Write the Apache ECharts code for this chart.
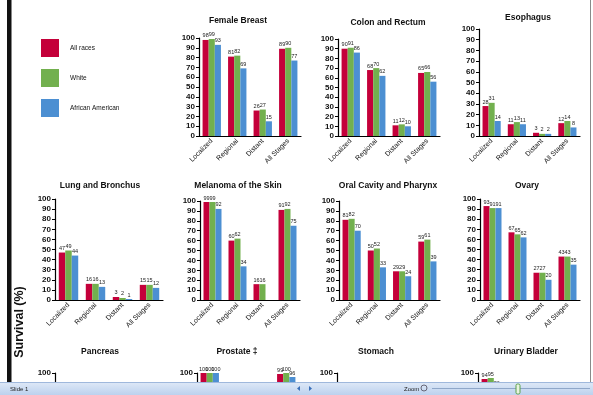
<!DOCTYPE html>
<html>
<head>
<meta charset="utf-8">
<script src="https://cdn.jsdelivr.net/npm/echarts@6/dist/echarts.min.js"></script>
<style>
html,body{margin:0;padding:0;background:#fff;}
#chart{width:593px;height:395px;}
</style>
</head>
<body>
<div id="chart"></div>
<script>
// ---- data ----
const categories = ['Localized', 'Regional', 'Distant', 'All Stages'];
const seriesNames = ['All races', 'White', 'African American'];
const yTicks = [0, 10, 20, 30, 40, 50, 60, 70, 80, 90, 100];

const panelTitles = ['Female Breast', 'Colon and Rectum', 'Esophagus',
  'Lung and Bronchus', 'Melanoma of the Skin', 'Oral Cavity and Pharynx', 'Ovary',
  'Pancreas', 'Prostate \u2021', 'Stomach', 'Urinary Bladder'];

// values per panel: [All races, White, African American], each over categories
const femaleBreast = [[98, 81, 26, 89], [99, 82, 27, 90], [93, 69, 15, 77]];
const colonRectum = [[90, 68, 11, 65], [91, 70, 12, 66], [86, 62, 10, 56]];
const esophagus = [[28, 11, 3, 12], [31, 13, 2, 14], [14, 11, 2, 8]];
const lungBronchus = [[47, 16, 3, 15], [49, 16, 2, 15], [44, 13, 1, 12]];
const melanoma = [[99, 60, 16, 91], [99, 62, 16, 92], [92, 34, '-', 75]];
const oralCavity = [[81, 50, 29, 59], [82, 52, 29, 61], [70, 33, 24, 39]];
const ovary = [[93, 67, 27, 43], [91, 65, 27, 43], [91, 62, 20, 35]];
const pancreas = [[20, 8, 2, 5], [20, 8, 2, 5], [18, 7, 2, 4]];
const prostate = [[100, '-', 31, 99], [100, '-', 31, 100], [100, '-', 29, 96]];
const stomach = [[62, 23, 3, 24], [60, 21, 3, 22], [63, 24, 3, 25]];
const bladder = [[94, 46, 6, 80], [95, 47, 6, 81], [86, 36, 4, 64]];

const panelValues = [femaleBreast, colonRectum, esophagus, lungBronchus, melanoma,
  oralCavity, ovary, pancreas, prostate, stomach, bladder];

const colors = ['#C4003A', '#72B04E', '#4C8FD2'];

// ---- layout ----
const grids = [
  {left: 199, top: 38, width: 102, height: 98},
  {left: 338, top: 39, width: 102, height: 97},
  {left: 479, top: 29, width: 101, height: 107},
  {left: 55, top: 199, width: 108, height: 101},
  {left: 200, top: 201, width: 100, height: 99},
  {left: 339, top: 201, width: 101, height: 99},
  {left: 480, top: 199, width: 100, height: 101},
  {left: 55, top: 373, width: 108, height: 100},
  {left: 197, top: 373, width: 102, height: 100},
  {left: 337, top: 373, width: 102, height: 100},
  {left: 478, top: 373, width: 102, height: 100}
].map(g => Object.assign({outerBoundsMode: 'none', containLabel: false}, g));
const titlePos = [[238, 21], [388, 23], [528, 18], [100, 186], [238, 186], [388, 186], [527, 186],
  [100, 352], [237, 352], [376, 352], [526, 352]];

const xAxes = [], yAxes = [], series = [], graphics = [];
grids.forEach((g, i) => {
  const cutOff = i >= 7; // bottom row: only the top of each panel shows above the status bar
  xAxes.push({
    type: 'category', gridIndex: i, data: categories,
    axisLine: {lineStyle: {color: '#000', width: 1.2}},
    axisTick: {show: false},
    axisLabel: {rotate: 45, fontSize: 7, color: '#111', margin: 4, interval: 0, fontFamily: 'Liberation Sans'}
  });
  yAxes.push({
    type: 'value', gridIndex: i, min: 0, max: 100, interval: 10,
    axisLine: {show: true, lineStyle: {color: '#000', width: 1.2}},
    axisTick: {show: true, length: 3, lineStyle: {color: '#000'}},
    splitLine: {show: false},
    axisLabel: {fontSize: 8, color: '#111', margin: 4, fontWeight: 'bold', fontFamily: 'Liberation Sans',
      formatter: v => (cutOff ? v === 100 : yTicks.indexOf(v) >= 0) ? String(v) : ''}
  });
  panelValues[i].forEach((vals, s) => {
    series.push({
      type: 'bar', name: seriesNames[s], xAxisIndex: i, yAxisIndex: i,
      data: vals, barGap: '0%', barCategoryGap: '28%',
      itemStyle: {color: colors[s]},
      label: {show: true, position: 'top', distance: 1, fontSize: 5.5, color: '#222', fontFamily: 'Liberation Sans'}
    });
  });
  graphics.push({
    type: 'text', x: titlePos[i][0], y: titlePos[i][1], z: 10,
    style: {text: panelTitles[i], font: 'bold 8.5px "Liberation Sans"', fill: '#111', textAlign: 'center', textVerticalAlign: 'middle'}
  });
});

// Frame, axis title, status bar
graphics.push(
  {type: 'rect', shape: {x: 7, y: 0, width: 4.5, height: 382}, style: {fill: '#111'}, z: 50},
  {type: 'line', shape: {x1: 590.5, y1: 0, x2: 590.5, y2: 382}, style: {stroke: '#8a8a8a', lineWidth: 1}, z: 50},
  {type: 'text', x: 20, y: 322, rotation: Math.PI / 2, z: 50,
    style: {text: 'Survival (%)', font: 'bold 12.5px "Liberation Sans"', fill: '#111', textAlign: 'center', textVerticalAlign: 'middle'}},
  {type: 'rect', shape: {x: 0, y: 382, width: 593, height: 13}, z: 100,
    style: {fill: new echarts.graphic.LinearGradient(0, 0, 0, 1, [{offset: 0, color: '#dfe9f7'}, {offset: 1, color: '#bcd1ee'}])}},
  {type: 'line', shape: {x1: 0, y1: 382.5, x2: 593, y2: 382.5}, style: {stroke: '#9fb8dc', lineWidth: 1}, z: 101},
  {type: 'text', x: 10, y: 389, z: 101, style: {text: 'Slide 1', font: '6px "Liberation Sans"', fill: '#222', textVerticalAlign: 'middle'}},
  {type: 'polygon', shape: {points: [[300, 386], [300, 391], [297, 388.5]]}, style: {fill: '#3a6fb8'}, z: 101},
  {type: 'polygon', shape: {points: [[309, 386], [309, 391], [312, 388.5]]}, style: {fill: '#3a6fb8'}, z: 101},
  {type: 'text', x: 404, y: 389, z: 101, style: {text: 'Zoom', font: '6px "Liberation Sans"', fill: '#222', textVerticalAlign: 'middle'}},
  {type: 'circle', shape: {cx: 424, cy: 388, r: 3}, style: {fill: 'none', stroke: '#667', lineWidth: 1}, z: 101},
  {type: 'line', shape: {x1: 432, y1: 388.5, x2: 590, y2: 388.5}, style: {stroke: '#8fa7c9', lineWidth: 1}, z: 101},
  {type: 'rect', shape: {x: 516, y: 384, width: 4, height: 10, r: 1.5}, style: {fill: '#e8f3e0', stroke: '#5aa04a', lineWidth: 1}, z: 102}
);

const chart = echarts.init(document.getElementById('chart'), null, {renderer: 'canvas'});
chart.setOption({
  animation: false,
  backgroundColor: '#fff',
  legend: {
    orient: 'vertical', left: 36, top: 34, itemWidth: 18, itemHeight: 18, itemGap: 12,
    icon: 'rect', data: seriesNames, selectedMode: false,
    textStyle: {fontSize: 6.5, color: '#111', padding: [0, 0, 0, 6], fontFamily: 'Liberation Sans'}
  },
  grid: grids,
  xAxis: xAxes,
  yAxis: yAxes,
  series: series,
  graphic: graphics
});
</script>
</body>
</html>
